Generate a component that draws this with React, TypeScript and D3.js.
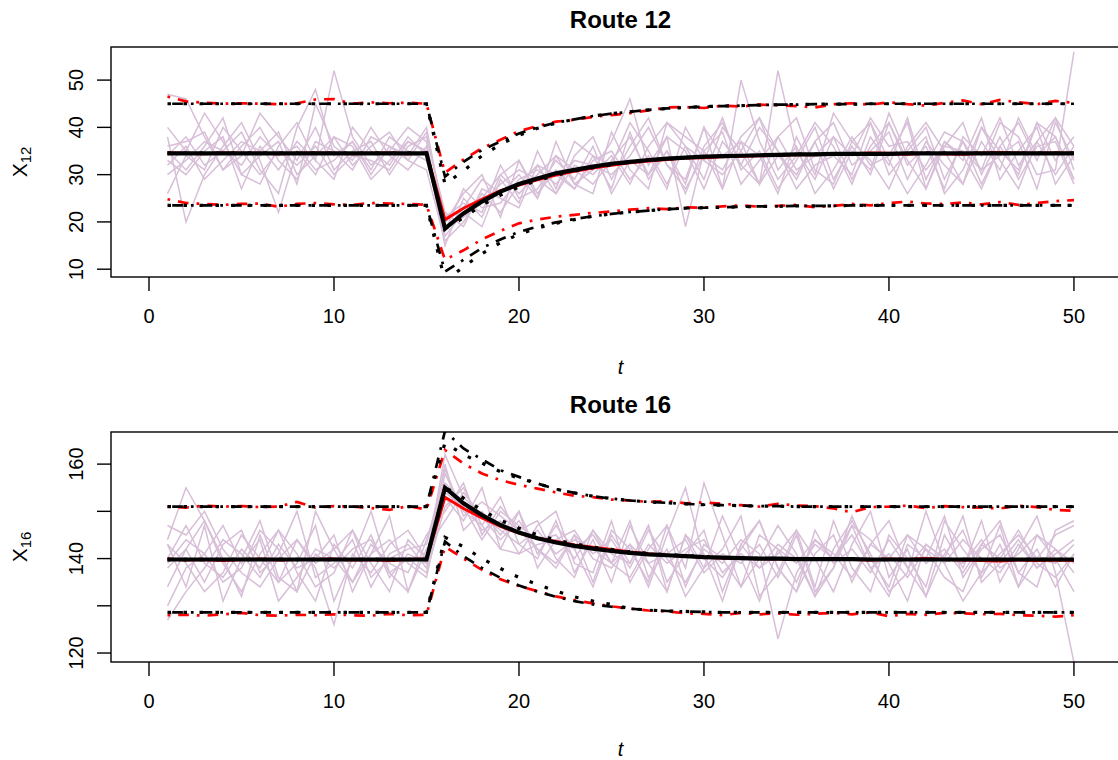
import React from 'react';
import * as d3 from 'd3';

// time index
const t = [1,2,3,4,5,6,7,8,9,10,11,12,13,14,15,16,17,18,19,20,21,22,23,24,25,26,27,28,29,30,31,32,33,34,35,36,37,38,39,40,41,42,43,44,45,46,47,48,49,50];
const xTicks = [0, 10, 20, 30, 40, 50];

// ---------- Route 12 ----------
const route12Paths = [
  [47,46,38,31,36,40,33,29,37,35,31,38,36,33,39, 20,26,30,21,33,25,37,28,26,39, 31,27,41,36,29,40,35,28,38,42, 31,28,37,41,30,35,40,29,37,31, 41,38,30,31,56],
  [40,35,43,37,30,28,36,41,33,52,38,32,35,40,37, 17,22,19,29,24,35,27,37,34,27, 39,29,35,28,40,27,50,37,29,34, 41,36,28,38,32,42,29,37,34,27, 36,41,33,42,36],
  [38,20,30,36,41,33,22,35,30,38,36,29,33,37,35, 15,25,21,30,33,26,31,27,34,32, 41,35,28,36,33,42,31,35,27,33, 40,29,36,30,41,33,27,37,33,42, 29,35,40,28,34],
  [36,37,39,31,34,43,38,33,40,31,35,37,30,36,38, 22,19,27,25,23,32,26,34,38,29, 36,42,32,29,40,34,37,28,52,35, 29,38,34,42,36,37,31,36,41,30, 38,29,36,37,28],
  [35,31,36,42,30,34,37,28,45,36,33,40,34,31,36, 18,23,25,30,26,30,34,28,31,37, 46,32,38,35,27,37,32,40,35,29, 37,41,32,35,39,29,37,32,28,40, 35,31,41,33,38],
  [34,38,32,35,39,31,26,40,48,34,37,31,38,35,33, 19,21,24,28,31,29,26,32,30,34, 28,36,41,38,35,27,37,34,26,38, 30,43,37,33,27,36,41,35,28,37, 31,42,34,38,29],
  [33,30,35,38,27,36,31,37,33,29,40,35,32,38,34, 21,24,22,32,25,27,33,29,36,26, 33,30,38,19,35,39,28,33,38,31, 34,38,29,36,41,32,36,27,38,34, 42,32,37,30,36],
  [32,36,29,33,37,35,39,30,34,38,32,36,39,33,31, 16,20,26,22,28,32,30,27,33,35, 29,34,27,40,33,30,35,42,31,36, 26,31,38,32,34,41,27,36,35,31, 34,37,27,41,33],
  [30,33,37,35,32,38,34,36,31,33,37,30,36,34,40, 20,23,29,26,30,25,34,31,28,33, 38,30,35,26,36,41,32,28,34,30, 37,27,35,31,43,34,38,26,31,40, 33,27,37,42,31],
  [26,34,31,40,35,30,35,32,36,30,34,33,31,37,35, 18,27,23,24,29,31,28,33,32,30, 34,40,32,27,34,31,38,42,35,27, 32,34,30,41,33,26,32,39,37,28, 36,30,41,38,29],
];
const route12RedMean = [34.6,34.5,34.4,34.6,34.5,34.5,34.4,34.5,34.6,34.5,34.4,34.5,34.6,34.4,34.5, 20.5,22.9,24.8,26.6,27.8,28.9,29.9,30.7,31.4,32.0, 32.5,32.9,33.2,33.5,33.6,33.8,33.9,34.0,34.1,34.2, 34.2,34.3,34.4,34.6,34.5,34.3,34.5,34.4,34.3,34.6, 34.7,34.6,34.5,34.6,34.5];
const route12RedUpper = [46.5,45.5,45.2,45.0,45.1,45.0,44.9,45.1,45.9,46.0,45.0,45.3,45.1,45.2,45.0, 30.4,33.2,35.6,37.4,39.2,40.3,41.2,41.6,42.2,42.6, 43.0,43.6,44.2,44.3,44.1,44.6,44.4,44.8,44.7,44.5, 44.2,44.9,45.1,44.8,45.3,44.9,44.6,45.2,45.7,44.9, 45.8,45.3,44.9,45.6,45.2];
const route12RedLower = [24.8,24.0,23.8,23.6,23.8,23.9,23.2,23.8,24.0,23.7,23.6,24.0,23.9,23.8,23.6, 12.0,14.0,16.3,18.1,19.7,20.5,21.1,21.5,21.9,22.2, 22.6,22.9,22.7,23.1,23.0,23.3,23.5,23.2,23.4,23.6, 23.1,23.4,23.8,23.5,24.0,24.3,23.9,23.8,24.1,23.7, 24.2,23.6,24.0,24.4,24.6];
const route12Mean = [34.5,34.5,34.5,34.5,34.5,34.5,34.5,34.5,34.5,34.5,34.5,34.5,34.5,34.5,34.5, 18.6,21.8,24.3,26.4,28.0,29.2,30.3,31.0,31.7,32.3, 32.7,33.1,33.4,33.6,33.8,33.9,34.0,34.1,34.2,34.3, 34.3,34.4,34.4,34.4,34.4,34.5,34.5,34.5,34.5,34.5, 34.5,34.5,34.5,34.5,34.5];
const route12Upper = [45.0,45.0,45.0,45.0,45.0,45.0,45.0,45.0,45.0,45.0,45.0,45.0,45.0,45.0,45.0, 29.6,32.7,35.2,37.0,38.7,40.0,41.0,41.7,42.4,42.9, 43.3,43.7,44.0,44.2,44.4,44.5,44.6,44.7,44.8,44.8, 44.9,44.9,44.9,45.0,45.0,45.0,45.0,45.0,45.0,45.0, 45.0,45.0,45.0,45.0,45.0];
const route12Lower = [23.5,23.5,23.5,23.5,23.5,23.5,23.5,23.5,23.5,23.5,23.5,23.5,23.5,23.5,23.5, 9.5,12.0,14.5,16.3,17.9,19.0,19.9,20.6,21.2,21.7, 22.1,22.4,22.7,22.9,23.0,23.1,23.2,23.3,23.3,23.4, 23.4,23.4,23.5,23.5,23.5,23.5,23.5,23.5,23.5,23.5, 23.5,23.5,23.5,23.5,23.5];
const route12ApproxMean = [34.5,34.5,34.5,34.5,34.5,34.5,34.5,34.5,34.5,34.5,34.5,34.5,34.5,34.5,34.5, 18.6,20.9,23.6,25.7,27.4,28.8,29.9,30.8,31.5,32.1, 32.6,33.0,33.3,33.6,33.8,33.9,34.0,34.1,34.2,34.3, 34.3,34.4,34.4,34.4,34.4,34.5,34.5,34.5,34.5,34.5, 34.5,34.5,34.5,34.5,34.5];
const route12ApproxUpper = [45.0,45.0,45.0,45.0,45.0,45.0,45.0,45.0,45.0,45.0,45.0,45.0,45.0,45.0,45.0, 28.0,30.8,34.0,36.4,38.3,39.8,40.9,41.7,42.4,42.9, 43.3,43.7,44.0,44.2,44.4,44.5,44.6,44.7,44.8,44.8, 44.9,44.9,44.9,45.0,45.0,45.0,45.0,45.0,45.0,45.0, 45.0,45.0,45.0,45.0,45.0];
const route12ApproxLower = [23.5,23.5,23.5,23.5,23.5,23.5,23.5,23.5,23.5,23.5,23.5,23.5,23.5,23.5,23.5, 7.5,10.5,13.3,15.6,17.4,18.7,19.7,20.5,21.2,21.7, 22.1,22.4,22.7,22.9,23.0,23.1,23.2,23.3,23.3,23.4, 23.4,23.4,23.5,23.5,23.5,23.5,23.5,23.5,23.5,23.5, 23.5,23.5,23.5,23.5,23.5];

// ---------- Route 16 ----------
const route16Paths = [
  [144,155,148,139,133,141,146,137,131,143,138,145,136,141,139, 158,150,147,153,143,140,148,137,144,135, 147,139,133,145,138,142,149,132,137,146, 140,133,143,150,136,142,132,145,138,148, 135,142,149,137,118],
  [147,145,150,142,137,134,140,144,138,126,141,137,143,146,140, 162,153,149,144,148,142,139,145,141,144, 138,146,140,135,142,139,144,141,123,137, 143,140,145,138,141,136,142,139,144,140, 137,143,138,141,144],
  [130,138,141,147,139,144,131,136,142,140,135,143,139,137,145, 150,156,145,151,146,148,140,136,146,139, 143,134,145,155,140,136,142,148,138,133, 141,145,135,143,148,138,132,141,146,136, 143,134,140,145,147],
  [138,142,135,143,146,137,141,150,136,139,144,134,141,143,138, 153,148,155,142,141,147,150,139,137,148, 135,142,147,138,156,145,134,140,147,141, 132,138,149,140,134,145,142,136,133,143, 148,137,142,134,141],
  [143,134,147,131,140,148,136,133,150,142,135,141,149,133,144, 156,152,146,148,141,143,144,146,140,138, 143,139,141,144,137,141,139,143,136,145, 133,138,147,144,139,131,143,140,149,135, 139,144,138,142,139],
  [140,147,139,136,142,138,146,141,134,137,146,139,133,144,140, 160,146,150,145,150,138,144,142,134,145, 139,147,135,141,146,133,143,138,141,146, 134,148,138,133,145,140,134,148,142,137, 147,134,145,140,133],
  [134,142,148,140,132,145,135,139,147,131,140,150,137,133,142, 148,154,149,146,143,146,141,144,142,139, 148,136,142,132,138,149,140,131,142,139, 144,141,136,143,140,145,139,142,137,143, 140,146,139,136,141],
  [127,133,138,144,141,136,143,138,140,145,133,141,144,139,136, 154,151,144,150,147,144,145,140,146,141, 139,147,133,145,141,131,143,148,138,133, 146,139,142,137,144,138,143,140,139,144, 138,141,145,142,137],
  [143,139,133,137,145,140,135,144,139,142,146,136,140,142,143, 159,149,152,149,146,142,138,145,135,146, 142,135,147,134,143,140,134,145,142,135, 144,140,147,138,132,143,140,149,136,142, 145,137,134,146,148],
  [139,144,141,135,138,146,142,133,141,138,142,144,137,140,137, 151,155,147,142,150,141,147,142,145,139, 136,143,139,142,144,137,141,138,143,140, 132,142,148,141,133,137,150,139,131,137, 141,145,140,139,143],
];
const route16RedMean = [139.9,139.7,139.8,139.6,139.8,139.9,139.7,139.8,139.8,139.9,139.7,139.8,139.6,139.8,139.9, 153.0,150.6,148.6,146.8,145.4,144.3,143.6,142.9,142.4,141.9, 141.4,141.0,140.7,140.5,140.3,140.1,140.0,140.0,139.9,139.9, 139.8,139.9,139.8,139.7,139.9,139.8,140.0,139.8,139.7,139.6, 139.5,139.7,139.6,139.7,139.6];
const route16RedUpper = [151.0,150.8,151.2,151.0,151.1,150.9,151.0,152.0,150.8,151.1,151.0,150.7,150.3,151.1,150.4, 163.0,160.1,158.0,156.6,155.6,154.8,154.0,153.3,153.0,152.5, 152.3,152.0,152.2,151.7,151.9,151.6,151.3,151.0,151.6,151.2, 151.1,150.6,149.8,150.9,151.0,151.2,150.7,151.1,150.9,150.8, 150.6,151.2,150.9,150.3,150.1];
const route16RedLower = [128.0,128.1,127.9,128.2,128.5,128.0,127.9,128.1,128.0,128.2,128.0,127.9,128.3,128.0,128.1, 142.5,140.0,137.6,135.6,134.2,133.1,132.0,131.2,130.5,129.9, 129.4,129.0,128.8,128.4,128.3,128.0,128.5,128.2,128.4,128.1, 128.3,128.5,128.2,128.6,127.8,128.3,128.1,128.5,128.4,128.2, 128.3,128.0,127.9,127.7,128.0];
const route16Mean = [139.8,139.8,139.8,139.8,139.8,139.8,139.8,139.8,139.8,139.8,139.8,139.8,139.8,139.8,139.8, 155.0,151.7,149.2,147.1,145.5,144.3,143.4,142.7,142.1,141.6, 141.2,140.9,140.7,140.5,140.3,140.2,140.1,140.0,140.0,139.9, 139.9,139.9,139.9,139.8,139.8,139.8,139.8,139.8,139.8,139.8, 139.8,139.8,139.8,139.8,139.8];
const route16Upper = [151.0,151.0,151.0,151.0,151.0,151.0,151.0,151.0,151.0,151.0,151.0,151.0,151.0,151.0,151.0, 167.0,163.3,161.0,158.7,157.3,155.9,154.7,153.9,153.2,152.7, 152.3,152.0,151.8,151.6,151.4,151.3,151.2,151.1,151.1,151.0, 151.0,151.0,151.0,151.0,151.0,151.0,151.0,151.0,151.0,151.0, 151.0,151.0,151.0,151.0,151.0];
const route16Lower = [128.6,128.6,128.6,128.6,128.6,128.6,128.6,128.6,128.6,128.6,128.6,128.6,128.6,128.6,128.6, 143.6,140.5,138.0,135.9,134.3,133.0,131.9,131.0,130.3,129.8, 129.4,129.1,128.9,128.8,128.7,128.6,128.6,128.6,128.6,128.6, 128.6,128.6,128.6,128.6,128.6,128.6,128.6,128.6,128.6,128.6, 128.6,128.6,128.6,128.6,128.6];
const route16ApproxMean = [139.8,139.8,139.8,139.8,139.8,139.8,139.8,139.8,139.8,139.8,139.8,139.8,139.8,139.8,139.8, 155.0,152.8,150.2,148.1,146.4,145.0,143.9,143.1,142.4,141.9, 141.4,141.1,140.8,140.6,140.4,140.2,140.1,140.0,140.0,139.9, 139.9,139.9,139.9,139.8,139.8,139.8,139.8,139.8,139.8,139.8, 139.8,139.8,139.8,139.8,139.8];
const route16ApproxUpper = [151.0,151.0,151.0,151.0,151.0,151.0,151.0,151.0,151.0,151.0,151.0,151.0,151.0,151.0,151.0, 164.5,162.0,160.2,158.4,157.0,155.9,154.7,153.9,153.2,152.7, 152.3,152.0,151.8,151.6,151.4,151.3,151.2,151.1,151.1,151.0, 151.0,151.0,151.0,151.0,151.0,151.0,151.0,151.0,151.0,151.0, 151.0,151.0,151.0,151.0,151.0];
const route16ApproxLower = [128.6,128.6,128.6,128.6,128.6,128.6,128.6,128.6,128.6,128.6,128.6,128.6,128.6,128.6,128.6, 144.5,142.5,140.0,137.9,136.0,134.5,133.1,131.9,131.0,130.3, 129.4,129.1,128.9,128.8,128.7,128.6,128.6,128.6,128.6,128.6, 128.6,128.6,128.6,128.6,128.6,128.6,128.6,128.6,128.6,128.6, 128.6,128.6,128.6,128.6,128.6];

const FONT = '"Liberation Sans", Arial, Helvetica, sans-serif';
const PATH_COL = '#D8BFD8';

// plot region geometry (R-like)
const LEFT = 111;
const RIGHT = 1130;
const PH = 230;

type PanelProps = {
  id: string;
  top: number;
  title: string;
  sub: string;
  yDomain: [number, number];
  yTicks: number[];
  yLabels: number[];
  paths: number[][];
  redMean: number[];
  redUpper: number[];
  redLower: number[];
  mean: number[];
  upper: number[];
  lower: number[];
  approxMean: number[];
  approxUpper: number[];
  approxLower: number[];
};

const Panel = (p: PanelProps) => {
  const x = d3.scaleLinear().domain([-2.054, 53.03]).range([LEFT, RIGHT]);
  const y = d3.scaleLinear().domain(p.yDomain).range([p.top + PH, p.top]);
  const line = d3.line<number>().x((d, i) => x(t[i])).y(d => y(d));
  const bottom = p.top + PH;

  const dotdash = '2.7 8 10.7 8';
  const dotted = '3.5 12.5';

  return (
    <g>
      <clipPath id={p.id}>
        <rect x={LEFT} y={p.top} width={RIGHT - LEFT} height={PH} />
      </clipPath>
      <g clipPath={`url(#${p.id})`} fill="none">
        {p.paths.map((s, i) => (
          <path key={i} d={line(s) || ''} stroke={PATH_COL} strokeWidth={1.5} />
        ))}
        <path d={line(p.redMean) || ''} stroke="#FF0000" strokeWidth={3} />
        <path d={line(p.redUpper) || ''} stroke="#FF0000" strokeWidth={2.7} strokeDasharray={dotdash} />
        <path d={line(p.redLower) || ''} stroke="#FF0000" strokeWidth={2.7} strokeDasharray={dotdash} />
        <path d={line(p.mean) || ''} stroke="#000" strokeWidth={4.2} />
        <path d={line(p.upper) || ''} stroke="#000" strokeWidth={2.7} strokeDasharray={dotdash} strokeDashoffset={6} />
        <path d={line(p.lower) || ''} stroke="#000" strokeWidth={2.7} strokeDasharray={dotdash} strokeDashoffset={6} />
        <path d={line(p.approxMean) || ''} stroke="#000" strokeWidth={3.5} strokeDasharray={dotted} />
        <path d={line(p.approxUpper) || ''} stroke="#000" strokeWidth={3.2} strokeDasharray={dotted} />
        <path d={line(p.approxLower) || ''} stroke="#000" strokeWidth={3.2} strokeDasharray={dotted} />
      </g>
      {/* box */}
      <rect x={LEFT} y={p.top} width={RIGHT - LEFT} height={PH} fill="none" stroke="#000" strokeWidth={1.4} />
      {/* x axis */}
      {xTicks.map(v => (
        <g key={v}>
          <line x1={x(v)} x2={x(v)} y1={bottom} y2={bottom + 14} stroke="#000" strokeWidth={1.4} />
          <text x={x(v)} y={bottom + 46} textAnchor="middle" fontSize={20} fontFamily={FONT}>{v}</text>
        </g>
      ))}
      {/* y axis */}
      {p.yTicks.map(v => (
        <line key={v} x1={LEFT - 14} x2={LEFT} y1={y(v)} y2={y(v)} stroke="#000" strokeWidth={1.4} />
      ))}
      {p.yLabels.map(v => (
        <text key={v} x={83} y={y(v)} transform={`rotate(-90, 83, ${y(v)})`} textAnchor="middle" fontSize={20} fontFamily={FONT}>{v}</text>
      ))}
      {/* titles */}
      <text x={(LEFT + RIGHT) / 2} y={p.top - 19} textAnchor="middle" fontSize={24} fontWeight="bold" fontFamily={FONT}>{p.title}</text>
      <text x={(LEFT + RIGHT) / 2} y={Math.min(bottom + 97, 756)} textAnchor="middle" fontSize={20} fontStyle="italic" fontFamily={FONT}>t</text>
      <text transform={`translate(27, ${p.top + PH / 2}) rotate(-90)`} textAnchor="middle" fontSize={21} fontFamily={FONT}>
        X<tspan dy={4} fontSize={15}>{p.sub}</tspan>
      </text>
    </g>
  );
};

export default function App() {
  return (
    <svg width={1118} height={760} style={{ position: 'absolute', left: 0, top: 0, background: '#fff' }}>
      <rect width={1118} height={760} fill="#fff" />
      <Panel
        id="clip12" top={47} title="Route 12" sub="12"
        yDomain={[8.35, 57.0]} yTicks={[10, 20, 30, 40, 50]} yLabels={[10, 20, 30, 40, 50]}
        paths={route12Paths}
        redMean={route12RedMean} redUpper={route12RedUpper} redLower={route12RedLower}
        mean={route12Mean} upper={route12Upper} lower={route12Lower}
        approxMean={route12ApproxMean} approxUpper={route12ApproxUpper} approxLower={route12ApproxLower}
      />
      <Panel
        id="clip16" top={432} title="Route 16" sub="16"
        yDomain={[118.1, 166.8]} yTicks={[120, 130, 140, 150, 160]} yLabels={[120, 140, 160]}
        paths={route16Paths}
        redMean={route16RedMean} redUpper={route16RedUpper} redLower={route16RedLower}
        mean={route16Mean} upper={route16Upper} lower={route16Lower}
        approxMean={route16ApproxMean} approxUpper={route16ApproxUpper} approxLower={route16ApproxLower}
      />
    </svg>
  );
}
